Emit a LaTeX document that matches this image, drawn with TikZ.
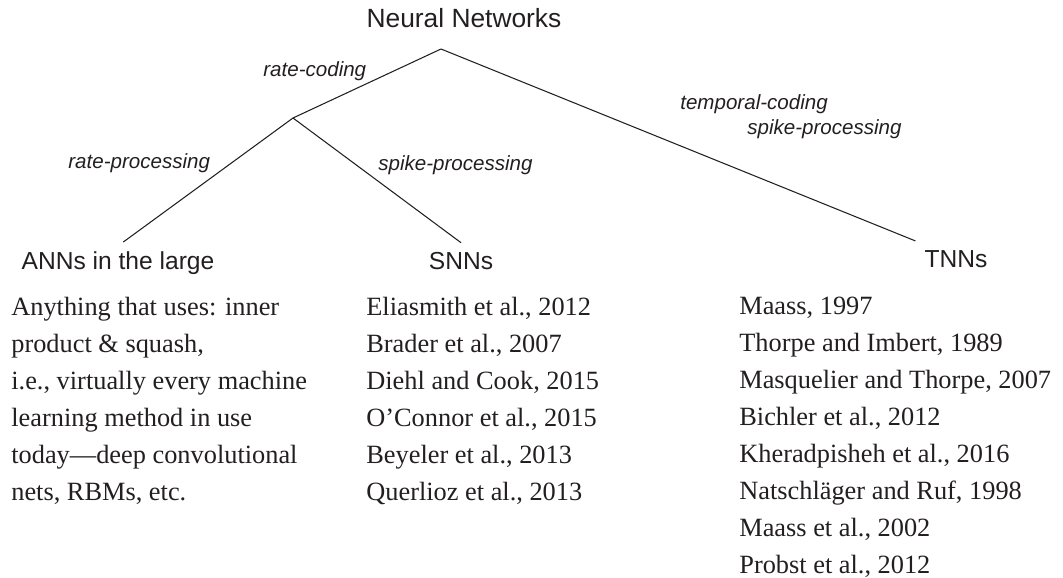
\documentclass[tikz,border=0pt]{standalone}
\usepackage{fontspec}
\setmainfont{Liberation Serif}
\setsansfont{Liberation Sans}
\definecolor{ink}{RGB}{35,31,32}
\tikzset{
  heading/.style={font=\sffamily\fontsize{14}{17}\selectfont, inner sep=5pt, anchor=base},
  coding/.style={font=\sffamily\itshape\fontsize{11.7}{14}\selectfont, inner sep=0pt, anchor=base west},
  refs/.style={font=\fontsize{15}{21}\selectfont, align=left, inner sep=0pt, anchor=north west},
  branch/.style={draw=ink, line width=0.6pt}
}
\begin{document}
\begin{tikzpicture}[x=0.02cm, y=-0.02cm, every node/.style={text=ink}]
    \useasboundingbox (0,0) rectangle (1063,578);
    \node[font=\sffamily\fontsize{15}{18}\selectfont, anchor=base, inner sep=0pt] (nn) at (464,28) {Neural Networks};
    \coordinate (nnfork) at (441,49);
    \coordinate (ratefork) at (293,118);

    \node[heading] (ann) at (118,269) {ANNs in the large};
    \node[heading] (snn) at (461,269) {SNNs};
    \node[heading] (tnn) at (956,267) {TNNs};

    \draw[branch] (nnfork) -- (ratefork);
    \draw[branch] (nnfork) -- (tnn.north west);
    \draw[branch] (ratefork) -- ([xshift=3pt]ann.north);
    \draw[branch] (ratefork) -- (snn.north);

    \node[coding] (ratecoding) at (263,76) {rate-coding};
    \node[coding] (rateproc) at (68,168) {rate-processing};
    \node[coding] (spikeproc) at (378,170) {spike-processing};
    \node[coding] (tempcoding) at (680,110) {temporal-coding};
    \node[coding] (tempspike) at (747,134) {spike-processing};

    \node[refs] (annrefs) at (11,297) {Anything that uses: inner\\
        product \& squash,\\
        i.e., virtually every machine\\
        learning method in use\\
        today---deep convolutional\\
        nets, RBMs, etc.};
    \node[refs] (snnrefs) at (366,297) {Eliasmith et al., 2012\\
        Brader et al., 2007\\
        Diehl and Cook, 2015\\
        O’Connor et al., 2015\\
        Beyeler et al., 2013\\
        Querlioz et al., 2013};
    \node[refs] (tnnrefs) at (739,297) {Maass, 1997\\
        Thorpe and Imbert, 1989\\
        Masquelier and Thorpe, 2007\\
        Bichler et al., 2012\\
        Kheradpisheh et al., 2016\\
        Natschläger and Ruf, 1998\\
        Maass et al., 2002\\
        Probst et al., 2012};
\end{tikzpicture}
\end{document}
